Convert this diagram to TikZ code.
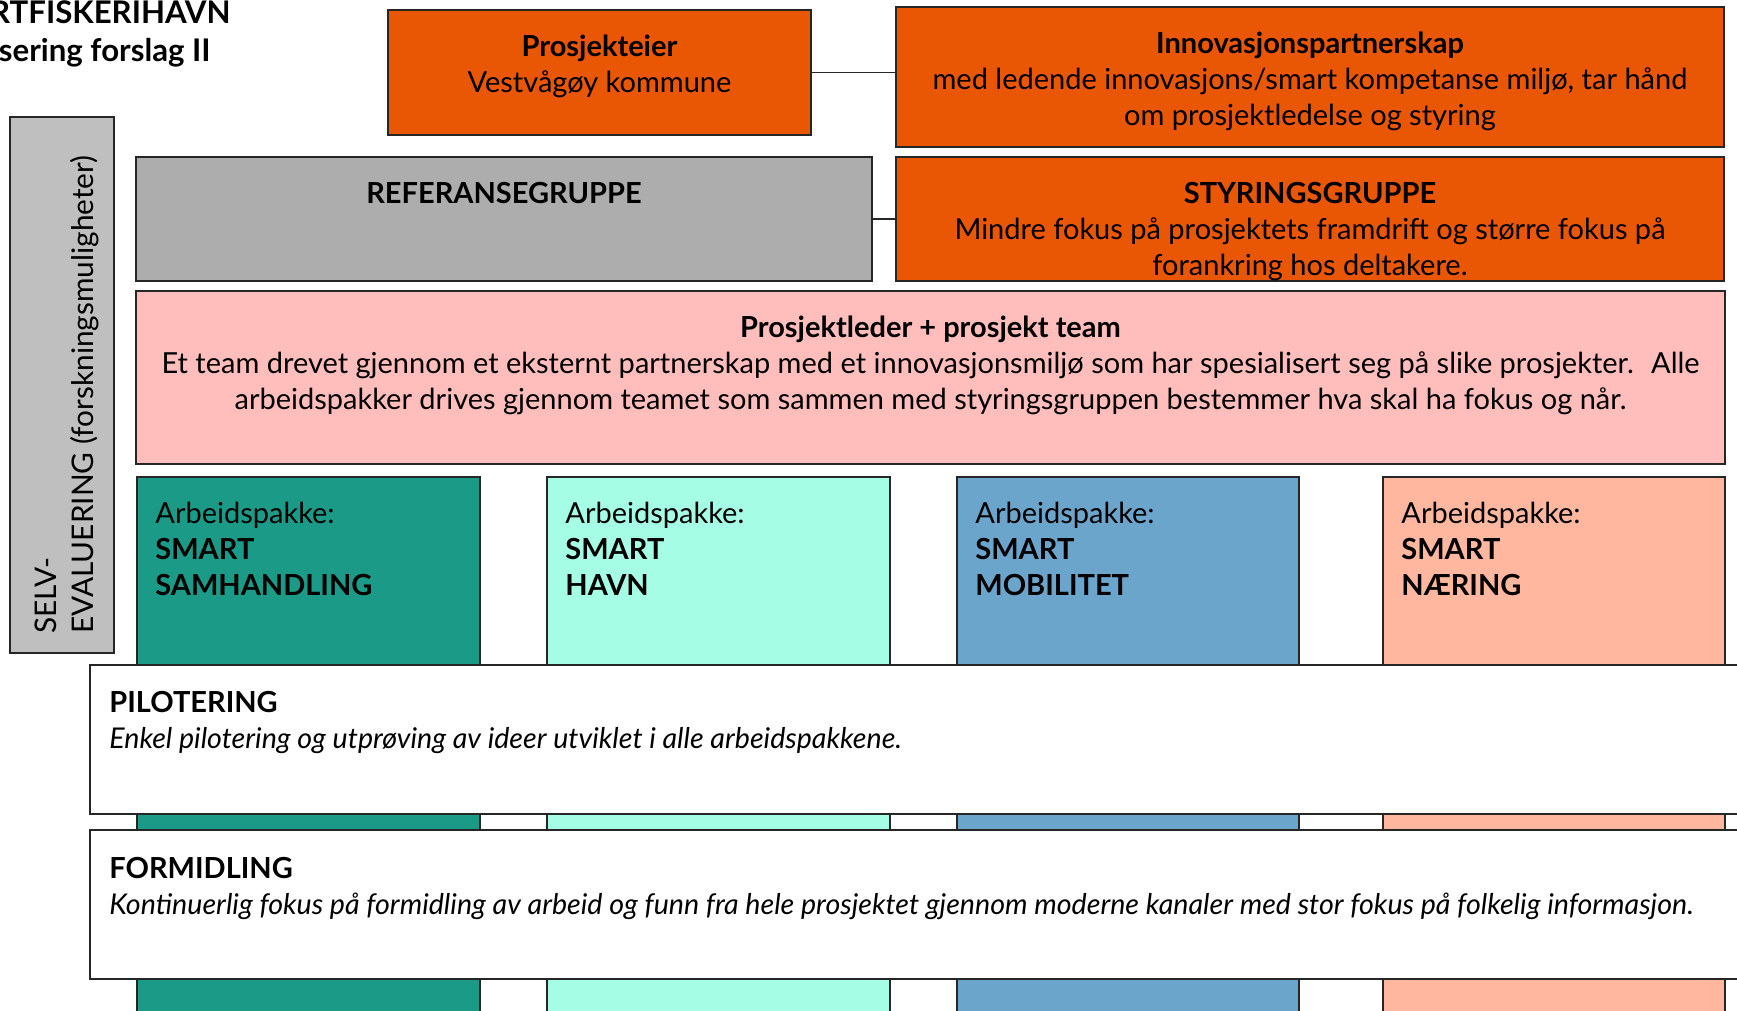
\documentclass[tikz,border=0pt]{standalone}
\usepackage{fontspec}
\setmainfont{Lato}
\usetikzlibrary{fit}

\definecolor{oransje}{RGB}{233,86,4}
\definecolor{refgraa}{RGB}{173,173,173}
\definecolor{selvgraa}{RGB}{191,191,191}
\definecolor{rosa}{RGB}{255,189,187}
\definecolor{pakkeA}{RGB}{27,154,136}
\definecolor{pakkeB}{RGB}{165,253,230}
\definecolor{pakkeC}{RGB}{108,165,203}
\definecolor{pakkeD}{RGB}{255,183,160}

\newcommand{\kursivtekst}{\fontsize{14.3}{18}\selectfont\itshape}

\begin{document}
\begin{tikzpicture}[x=0.5pt, y=-0.5pt,
    boks/.style={draw=black!85, line width=0.75pt, inner sep=0pt},
    tekst/.style={inner sep=0pt, font=\fontsize{14.5}{18}\selectfont},
    kobling/.style={draw=black!85, line width=0.75pt},
  ]
        \useasboundingbox (0,0) rectangle (1737,1011);

        %% Title, cut off at the left edge
        \node [tekst, anchor=base east, font=\fontsize{15.6}{19}\selectfont\bfseries] (tittel1) at (231,24) {RTFISKERIHAVN};
        \node [tekst, anchor=base east, font=\fontsize{15.6}{19}\selectfont\bfseries] (tittel2) at (211,62) {sering forslag II};

        %% Boxes at the top
        \node [boks, fill=oransje, fit={(388,10) (811,135)}] (eier) {};
        \node [boks, fill=oransje, fit={(896,7) (1724,147)}] (innov) {};
        \node [boks, fill=refgraa, fit={(136,157) (872,281)}] (ref) {};
        \node [boks, fill=oransje, fit={(896,157) (1724,281)}] (styr) {};
        \node [boks, fill=rosa, fit={(136,291) (1725,464)}] (leder) {};
        \node [boks, fill=selvgraa, fit={(10,117) (114,653)}] (selv) {};

        %% Work packages, running on below the picture
        \node [boks, fill=pakkeA, fit={(137,477) (480,1030)}] (ap1) {};
        \node [boks, fill=pakkeB, fit={(547,477) (890,1030)}] (ap2) {};
        \node [boks, fill=pakkeC, fit={(957,477) (1299,1030)}] (ap3) {};
        \node [boks, fill=pakkeD, fit={(1383,477) (1725,1030)}] (ap4) {};

        %% Bands across the work packages
        \node [boks, fill=white, fit={(90,665) (1760,814)}] (pilot) {};
        \node [boks, fill=white, fit={(90,830) (1760,979)}] (formidl) {};

        %% Connectors
        \draw [kobling] (eier.east) -- (eier.east -| innov.west);
        \draw [kobling] (ref.east) -- (ref.east -| styr.west);

        %% Text
        \node [tekst, anchor=north, align=center] (eiertekst) at (599.5,26.5) {\rule{0pt}{15pt}\textbf{Prosjekteier}\\Vestvågøy kommune};
        \node [tekst, anchor=north, align=center] (innovtekst) at (1310,23) {\rule{0pt}{15pt}\textbf{Innovasjonspartnerskap}\\med ledende innovasjons/smart kompetanse miljø, tar hånd\\om prosjektledelse og styring};
        \node [tekst, anchor=north, align=center] (reftekst) at (504,173.5) {\rule{0pt}{15pt}\textbf{REFERANSEGRUPPE}};
        \node [tekst, anchor=north, align=center] (styrtekst) at (1310,173.5) {\rule{0pt}{15pt}\textbf{STYRINGSGRUPPE}\\Mindre fokus på prosjektets framdrift og større fokus på\\forankring hos deltakere.};
        \node [tekst, anchor=north, align=center] (ledertekst) at (930.5,307.5) {\rule{0pt}{15pt}\textbf{Prosjektleder + prosjekt team}\\Et team drevet gjennom et eksternt partnerskap med et innovasjonsmiljø som har spesialisert seg på slike prosjekter.~ Alle\\arbeidspakker drives gjennom teamet som sammen med styringsgruppen bestemmer hva skal ha fokus og når.};
        \node [tekst, rotate=90, anchor=north west, align=left, font=\fontsize{14.9}{18.3}\selectfont] (selvtekst) at (26,634) {\rule{0pt}{15pt}SELV-\\EVALUERING (forskningsmuligheter)};

        \node [tekst, anchor=north west, align=left] (ap1tekst) at (155,493.5) {\rule{0pt}{15pt}Arbeidspakke:\\\textbf{SMART}\\\textbf{SAMHANDLING}};
        \node [tekst, anchor=north west, align=left] (ap2tekst) at (565,493.5) {\rule{0pt}{15pt}Arbeidspakke:\\\textbf{SMART}\\\textbf{HAVN}};
        \node [tekst, anchor=north west, align=left] (ap3tekst) at (975,493.5) {\rule{0pt}{15pt}Arbeidspakke:\\\textbf{SMART}\\\textbf{MOBILITET}};
        \node [tekst, anchor=north west, align=left] (ap4tekst) at (1401,493.5) {\rule{0pt}{15pt}Arbeidspakke:\\\textbf{SMART}\\\textbf{NÆRING}};

        \node [tekst, anchor=north west, align=left] (pilottekst) at (109,682.5) {\rule{0pt}{15pt}\textbf{PILOTERING}\\{\kursivtekst Enkel pilotering og utprøving av ideer utviklet i alle arbeidspakkene.}};
        \node [tekst, anchor=north west, align=left] (formidltekst) at (109,848) {\rule{0pt}{15pt}\textbf{FORMIDLING}\\{\kursivtekst Kontinuerlig fokus på formidling av arbeid og funn fra hele prosjektet gjennom moderne kanaler med stor fokus på folkelig informasjon.}};
\end{tikzpicture}
\end{document}
